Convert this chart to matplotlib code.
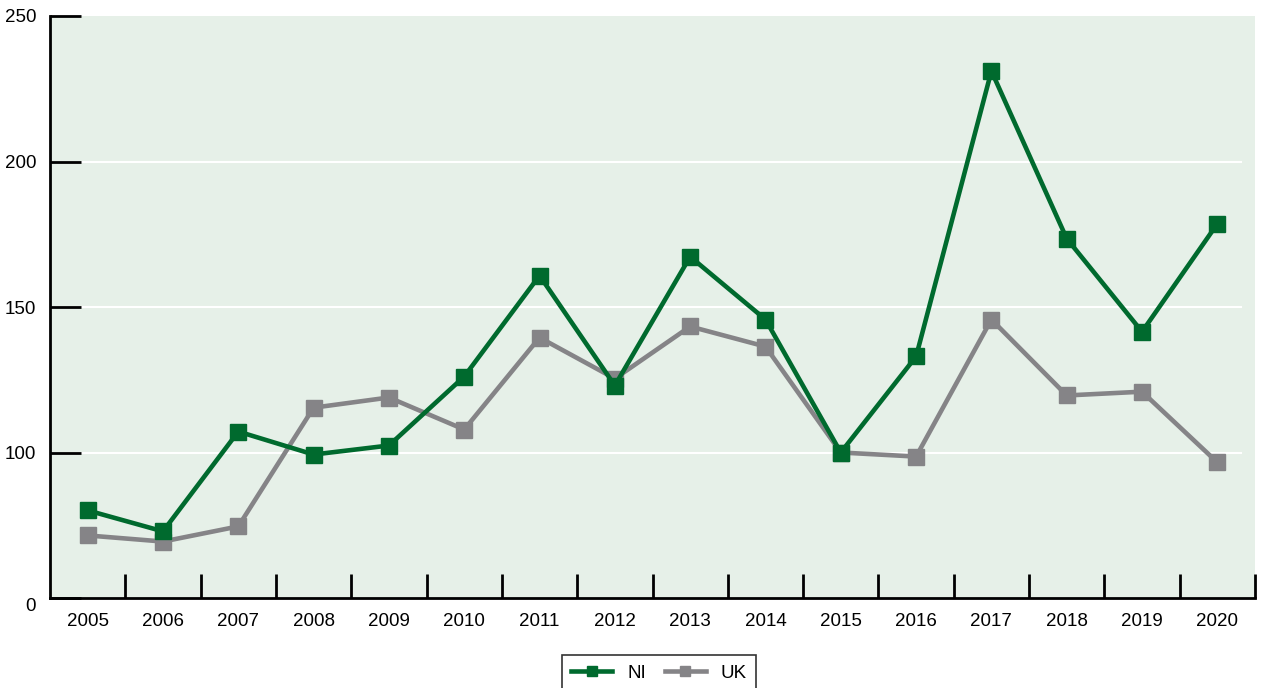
import numpy as np
import matplotlib.pyplot as plt
import matplotlib.transforms as mtransforms

plt.rcParams['font.family'] = ['Liberation Sans', 'DejaVu Sans']

years = ['2005', '2006', '2007', '2008', '2009', '2010', '2011', '2012',
         '2013', '2014', '2015', '2016', '2017', '2018', '2019', '2020']
ni = [80.1, 72.9, 107.2, 99.3, 102.4, 126.1, 160.8, 123.0,
      167.3, 145.7, 100.0, 133.0, 231.1, 173.5, 141.5, 178.6]
uk = [71.5, 69.4, 74.6, 115.4, 118.9, 107.9, 139.5, 125.4,
      143.3, 136.4, 100.0, 98.6, 145.7, 119.6, 120.9, 96.6]

ytick_vals = [50, 100, 150, 200, 250]
ytick_labels = ['0', '100', '150', '200', '250']

fig = plt.figure(figsize=(12.65, 6.88), dpi=100)
ax = fig.add_axes([50 / 1265, 90 / 688, 1205 / 1265, 582 / 688])
ax.set_facecolor('#e6f0e8')

x = np.arange(len(years))
ax.plot(x, uk, color='#858487', lw=3.3, marker='s', ms=11.5, label='UK', zorder=3)
ax.plot(x, ni, color='#006a2e', lw=3.3, marker='s', ms=11.5, label='NI', zorder=4)

ax.set_xlim(-0.5, len(years) - 0.5)
ax.set_ylim(50, 250)

for v in [100, 150, 200]:
    ax.axhline(v, xmax=0.988, color='white', lw=1.5, zorder=1)

ax.set_yticks(ytick_vals)
ax.set_yticklabels(ytick_labels, fontsize=13.5)
ax.tick_params(axis='y', direction='in', length=22, width=2, pad=10)
# bottom label sits a little below its tick
lbl0 = ax.get_yticklabels()[0]
lbl0.set_transform(lbl0.get_transform() +
                   mtransforms.ScaledTranslation(0, -5 / 72, fig.dpi_scale_trans))

ax.set_xticks(x)
ax.set_xticklabels(years, fontsize=13.5)
ax.set_xticks(list(x + 0.5), minor=True)
ax.tick_params(axis='x', which='major', length=0, pad=11)
ax.tick_params(axis='x', which='minor', direction='in', length=17, width=2)

for s in ['top', 'right']:
    ax.spines[s].set_visible(False)
for s in ['left', 'bottom']:
    ax.spines[s].set_linewidth(2)
    ax.spines[s].set_color('black')

h, l = ax.get_legend_handles_labels()
leg = fig.legend(h[::-1], l[::-1], loc='upper center', ncol=2,
                 bbox_to_anchor=(659 / 1265, 33 / 688), borderaxespad=0,
                 fontsize=13.5, frameon=True, fancybox=False,
                 edgecolor='black', markerscale=0.6, handlelength=2.2,
                 columnspacing=1.0, borderpad=0.5)
leg.get_frame().set_linewidth(1.2)

fig.savefig('out.png', dpi=100)
